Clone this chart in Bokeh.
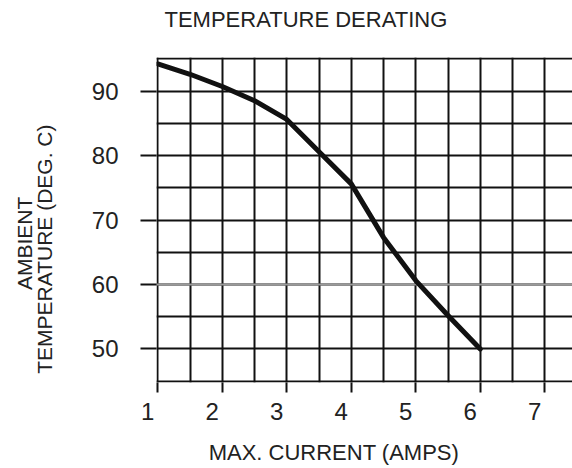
from bokeh.plotting import figure
from bokeh.models import FixedTicker, Span, Range1d
from bokeh.embed import file_html
from bokeh.resources import INLINE

# ---- data ----
current = [1.0, 1.5, 2.0, 2.5, 3.0, 3.5, 4.0, 4.5, 5.0, 5.5, 6.0]
temperature = [94.2, 92.6, 90.7, 88.5, 85.6, 80.6, 75.6, 67.3, 60.6, 55.2, 50.0]

x_ticks = [1, 2, 3, 4, 5, 6, 7]
y_ticks = [50, 60, 70, 80, 90]
x_grid = [1, 1.5, 2, 2.5, 3, 3.5, 4, 4.5, 5, 5.5, 6, 6.5, 7]
y_grid = [45, 50, 55, 60, 65, 70, 75, 80, 85, 90, 95]
highlight_temp = 60

title_text = "TEMPERATURE DERATING"
x_label = "MAX. CURRENT (AMPS)"
y_label_1 = "AMBIENT"
y_label_2 = "TEMPERATURE (DEG. C)"

FONT = "Liberation Sans"
INK = "#111111"
TXT = "#222222"
NB = "\u00a0"

p = figure(width=572, height=468, output_backend="svg", toolbar_location=None,
           x_range=Range1d(0.98, 7.43), y_range=Range1d(44.8, 95.2),
           min_border_left=156, min_border_right=0,
           min_border_top=57, min_border_bottom=86)
p.outline_line_color = None
p.background_fill_color = "white"
p.border_fill_color = "white"

# title (a blank second line lifts the text away from the frame)
p.title.text = title_text + "\n" + NB
p.title.align = "left"
p.title.offset = 8
p.title.vertical_align = "bottom"
p.title.standoff = 4
p.title.text_line_height = 0.95
p.title.text_font = FONT
p.title.text_font_size = "22px"
p.title.text_font_style = "normal"
p.title.text_color = TXT

# grid
for g, t in ((p.xgrid, x_grid), (p.ygrid, y_grid)):
    g.ticker = FixedTicker(ticks=t)
    g.grid_line_color = INK
    g.grid_line_width = 2
    g.grid_line_alpha = 1.0

# axes
p.xaxis.ticker = FixedTicker(ticks=x_ticks)
p.yaxis.ticker = FixedTicker(ticks=y_ticks)
for ax in (p.xaxis[0], p.yaxis[0]):
    ax.axis_line_color = None
    ax.major_tick_in = 0
    ax.major_tick_line_color = INK
    ax.major_tick_line_width = 2
    ax.minor_tick_line_color = None
    ax.major_label_text_font = FONT
    ax.major_label_text_font_size = "24px"
    ax.major_label_text_color = TXT
    ax.axis_label_text_font = FONT
    ax.axis_label_text_font_style = "normal"
    ax.axis_label_text_color = TXT
p.xaxis.major_tick_out = 10
p.xaxis.major_label_standoff = 5
p.xaxis.major_label_overrides = {t: str(t) + NB * 3 for t in x_ticks}
p.xaxis.axis_label = x_label + NB * 10
p.xaxis.axis_label_text_font_size = "22px"
p.xaxis.axis_label_standoff = 12

p.yaxis.major_tick_out = 16
p.yaxis.major_label_standoff = 22
p.yaxis.axis_label = y_label_1 + NB * 8 + "\n" + y_label_2 + NB * 10
p.yaxis.axis_label_text_font_size = "21px"
p.yaxis.axis_label_text_line_height = 0.85
p.yaxis.axis_label_standoff = 33

span = Span(location=highlight_temp, dimension="width", line_color="#9a9a9a",
            line_width=2, level="underlay")
p.add_layout(span)

p.line(current, temperature, line_width=5, line_color=INK,
       line_join="round", line_cap="round")

open("out.html", "w").write(file_html(p, INLINE))
